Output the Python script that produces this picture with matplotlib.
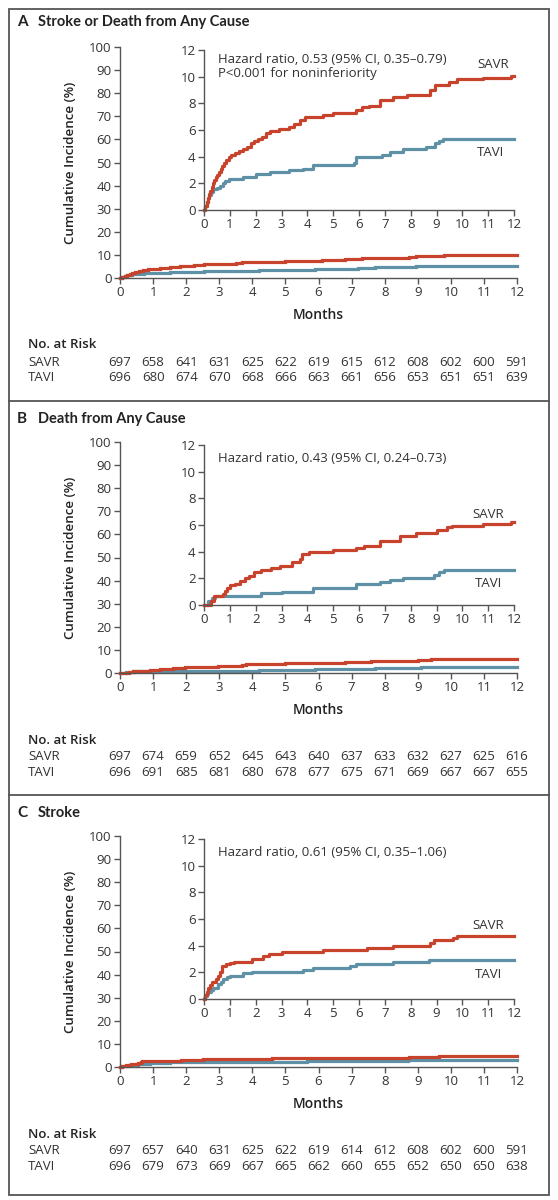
import matplotlib
matplotlib.use("Agg")
import matplotlib.pyplot as plt
from matplotlib.transforms import blended_transform_factory
from matplotlib.patches import Rectangle
from matplotlib.lines import Line2D

plt.rcParams['font.family'] = ['Open Sans', 'DejaVu Sans']

months = list(range(13))

# ---- Panel A: Stroke or Death from Any Cause ----
a_savr_t = [0, 0.05, 0.1, 0.15, 0.2, 0.25, 0.3, 0.35, 0.4, 0.45, 0.5, 0.57, 0.64, 0.7, 0.78, 0.86, 0.95, 1.05, 1.2, 1.35,
            1.5, 1.65, 1.8, 1.95, 2.1, 2.25, 2.4, 2.55, 2.9, 3.3, 3.5, 3.7, 3.9, 4.6, 5.0, 5.9, 6.1, 6.4, 6.8, 7.3,
            7.85, 8.75, 8.95, 9.5, 9.8, 10.8, 11.9, 12]
a_savr_v = [0, 0.3, 0.6, 0.9, 1.2, 1.45, 1.7, 2.0, 2.25, 2.45, 2.6, 2.85, 3.05, 3.3, 3.55, 3.75, 3.95, 4.1, 4.25, 4.4,
            4.55, 4.75, 5.0, 5.2, 5.3, 5.45, 5.75, 5.9, 6.05, 6.25, 6.45, 6.75, 7.0, 7.1, 7.3, 7.5, 7.7, 7.8, 8.25, 8.45,
            8.6, 9.0, 9.35, 9.6, 9.8, 9.9, 10.05, 10.05]
a_tavi_t = [0, 0.05, 0.1, 0.15, 0.2, 0.28, 0.36, 0.5, 0.62, 0.72, 0.82, 0.95, 1.5, 2.0, 2.55, 3.3, 3.85, 4.2, 5.8, 5.9,
            6.9, 7.2, 7.7, 8.6, 8.95, 9.1, 9.26, 12]
a_tavi_v = [0, 0.3, 0.6, 0.9, 1.1, 1.35, 1.55, 1.65, 1.8, 2.0, 2.2, 2.35, 2.5, 2.7, 2.85, 3.0, 3.1, 3.35, 3.55, 3.95,
            4.1, 4.35, 4.55, 4.75, 5.0, 5.15, 5.3, 5.3]
a_risk_savr = [697, 658, 641, 631, 625, 622, 619, 615, 612, 608, 602, 600, 591]
a_risk_tavi = [696, 680, 674, 670, 668, 666, 663, 661, 656, 653, 651, 651, 639]

# ---- Panel B: Death from Any Cause ----
b_savr_t = [0, 0.28, 0.4, 0.75, 0.82, 0.9, 1.0, 1.2, 1.4, 1.6, 1.75, 1.95, 2.2, 2.6, 2.95, 3.4, 3.7, 3.8, 4.05, 5.0,
            5.9, 6.2, 6.8, 7.6, 8.2, 9.0, 9.4, 9.6, 10.8, 11.9, 12]
b_savr_v = [0, 0.3, 0.7, 0.85, 1.05, 1.25, 1.5, 1.6, 1.8, 2.0, 2.2, 2.45, 2.65, 2.75, 2.9, 3.2, 3.45, 3.8, 4.0, 4.15,
            4.3, 4.45, 4.8, 5.2, 5.4, 5.65, 5.85, 5.95, 6.1, 6.25, 6.25]
b_tavi_t = [0, 0.17, 0.3, 0.42, 2.2, 3.0, 4.2, 5.9, 6.8, 7.2, 7.7, 8.9, 9.1, 9.3, 12]
b_tavi_v = [0, 0.3, 0.55, 0.7, 0.9, 1.0, 1.3, 1.6, 1.75, 1.9, 2.05, 2.25, 2.5, 2.6, 2.6]
b_risk_savr = [697, 674, 659, 652, 645, 643, 640, 637, 633, 632, 627, 625, 616]
b_risk_tavi = [696, 691, 685, 681, 680, 678, 677, 675, 671, 669, 667, 667, 655]

# ---- Panel C: Stroke ----
c_savr_t = [0, 0.05, 0.1, 0.17, 0.25, 0.32, 0.45, 0.55, 0.62, 0.68, 0.85, 1.0, 1.15, 1.85, 2.3, 2.5, 3.0, 4.6, 6.3,
            7.3, 8.75, 8.9, 9.65, 9.8, 12]
c_savr_v = [0, 0.3, 0.55, 0.8, 1.05, 1.25, 1.5, 1.75, 2.0, 2.45, 2.6, 2.7, 2.8, 3.0, 3.2, 3.4, 3.5, 3.7, 3.85,
            3.95, 4.2, 4.4, 4.55, 4.75, 4.75]
c_tavi_t = [0, 0.05, 0.1, 0.17, 0.28, 0.36, 0.55, 0.65, 0.75, 0.9, 1.0, 1.5, 1.85, 3.85, 4.2, 5.65, 5.9, 7.3, 8.7, 12]
c_tavi_v = [0, 0.25, 0.4, 0.55, 0.7, 0.85, 1.1, 1.3, 1.5, 1.65, 1.75, 1.95, 2.05, 2.15, 2.3, 2.5, 2.65, 2.75, 2.9, 2.9]
c_risk_savr = [697, 657, 640, 631, 625, 622, 619, 614, 612, 608, 602, 600, 591]
c_risk_tavi = [696, 679, 673, 669, 667, 665, 662, 660, 655, 652, 650, 650, 638]

panel_letters = ['A', 'B', 'C']
panel_titles = ['Stroke or Death from Any Cause', 'Death from Any Cause', 'Stroke']
hazard_texts = ['Hazard ratio, 0.53 (95% CI, 0.35\u20130.79)\nP<0.001 for noninferiority',
                'Hazard ratio, 0.43 (95% CI, 0.24\u20130.73)',
                'Hazard ratio, 0.61 (95% CI, 0.35\u20131.06)']

panels = [
    (a_savr_t, a_savr_v, a_tavi_t, a_tavi_v, a_risk_savr, a_risk_tavi),
    (b_savr_t, b_savr_v, b_tavi_t, b_tavi_v, b_risk_savr, b_risk_tavi),
    (c_savr_t, c_savr_v, c_tavi_t, c_tavi_v, c_risk_savr, c_risk_tavi),
]
label_pos = [((11.2, 10.9), (11.1, 4.35)), ((11.0, 6.8), (11.0, 1.6)), ((11.0, 5.5), (11.0, 1.85))]

SAVR_C = '#C8432B'
TAVI_C = '#5E90A6'
TXT = '#333333'
SPINE = '#555555'

W, H = 558, 1200
fig = plt.figure(figsize=(W / 100, H / 100), dpi=100)
fig.patch.set_facecolor('white')


def fx(px):
    return px / W


def fy(py):
    return 1 - py / H


def style(ax, fs):
    for s in ['top', 'right']:
        ax.spines[s].set_visible(False)
    for s in ['left', 'bottom']:
        ax.spines[s].set_color(SPINE)
        ax.spines[s].set_linewidth(1.0)
    ax.tick_params(direction='out', length=4, width=1.0, color=SPINE, labelcolor=TXT, labelsize=fs, pad=2)
    ax.patch.set_alpha(0)


offsets = [0, 395, 789]
title_y = [22, 419, 813]
for i, (off, data) in enumerate(zip(offsets, panels)):
    st, sv, tt, tv, rs, rt = data
    # title
    fig.text(fx(17), fy(title_y[i]), panel_letters[i], fontsize=11, fontweight='bold', color='#222222',
             va='center', family=['Lato', 'DejaVu Sans'])
    fig.text(fx(38), fy(title_y[i]), panel_titles[i], fontsize=10.5, fontweight='bold', color='#222222',
             va='center', family=['Lato', 'DejaVu Sans'])

    # main axes
    L, R = 120, 517
    T, B = 47 + off, 278 + off
    ax = fig.add_axes([fx(L), fy(B), fx(R - L), (B - T) / H])
    style(ax, 9.5)
    ax.step(tt, tv, where='post', color=TAVI_C, lw=2.3, clip_on=False, solid_joinstyle='miter')
    ax.step(st, sv, where='post', color=SAVR_C, lw=2.3, clip_on=False, solid_joinstyle='miter')
    ax.set_xlim(0, 12)
    ax.set_ylim(0, 100)
    ax.set_xticks(months)
    ax.set_yticks(range(0, 101, 10))
    ax.set_xlabel('Months', fontsize=10, fontweight='semibold', color='#222222', labelpad=6)
    ax.set_ylabel('Cumulative Incidence (%)', fontsize=9.6, fontweight='semibold', color='#222222', labelpad=9)

    # inset
    iL, iR = 204, 514
    iT, iB = 50 + off, 210 + off
    ia = fig.add_axes([fx(iL), fy(iB), fx(iR - iL), (iB - iT) / H])
    style(ia, 9.5)
    ia.step(tt, tv, where='post', color=TAVI_C, lw=2.3, clip_on=False)
    ia.step(st, sv, where='post', color=SAVR_C, lw=2.3, clip_on=False)
    ia.set_xlim(0, 12)
    ia.set_ylim(0, 12)
    ia.set_xticks(months)
    ia.set_yticks(range(0, 13, 2))
    if i == 0:
        ia.text(0.55, 11.75, hazard_texts[i], fontsize=9.5, color=TXT, va='top', linespacing=1.05)
    else:
        ia.text(0.55, 11.0, hazard_texts[i], fontsize=9.5, color=TXT, va='center')
    (sx, sy), (tx, ty) = label_pos[i]
    ia.text(sx, sy, 'SAVR', fontsize=9.5, color=TXT, ha='center', va='center')
    ia.text(tx, ty, 'TAVI', fontsize=9.5, color=TXT, ha='center', va='center')

    # number at risk
    tr = blended_transform_factory(ax.transData, fig.transFigure)
    fig.text(fx(28), fy(345 + off), 'No. at Risk', fontsize=9.5, fontweight='semibold', color='#222222',
             va='center')
    fig.text(fx(28), fy(362 + off), 'SAVR', fontsize=9.5, color=TXT, va='center')
    fig.text(fx(28), fy(378 + off), 'TAVI', fontsize=9.5, color=TXT, va='center')
    for m, a, b in zip(months, rs, rt):
        ax.text(m, fy(362 + off), str(a), transform=tr, fontsize=9.5, color=TXT, ha='center', va='center')
        ax.text(m, fy(378 + off), str(b), transform=tr, fontsize=9.5, color=TXT, ha='center', va='center')

# borders
fig.add_artist(Rectangle((fx(9), fy(1195)), fx(549 - 9), (1195 - 9) / H, transform=fig.transFigure,
                         fill=False, edgecolor='#555555', lw=1.3))
for ysep in [401, 795]:
    fig.add_artist(Line2D([fx(9), fx(549)], [fy(ysep), fy(ysep)], transform=fig.transFigure,
                          color='#555555', lw=1.3))

fig.savefig('out.png', dpi=100, facecolor='white')
